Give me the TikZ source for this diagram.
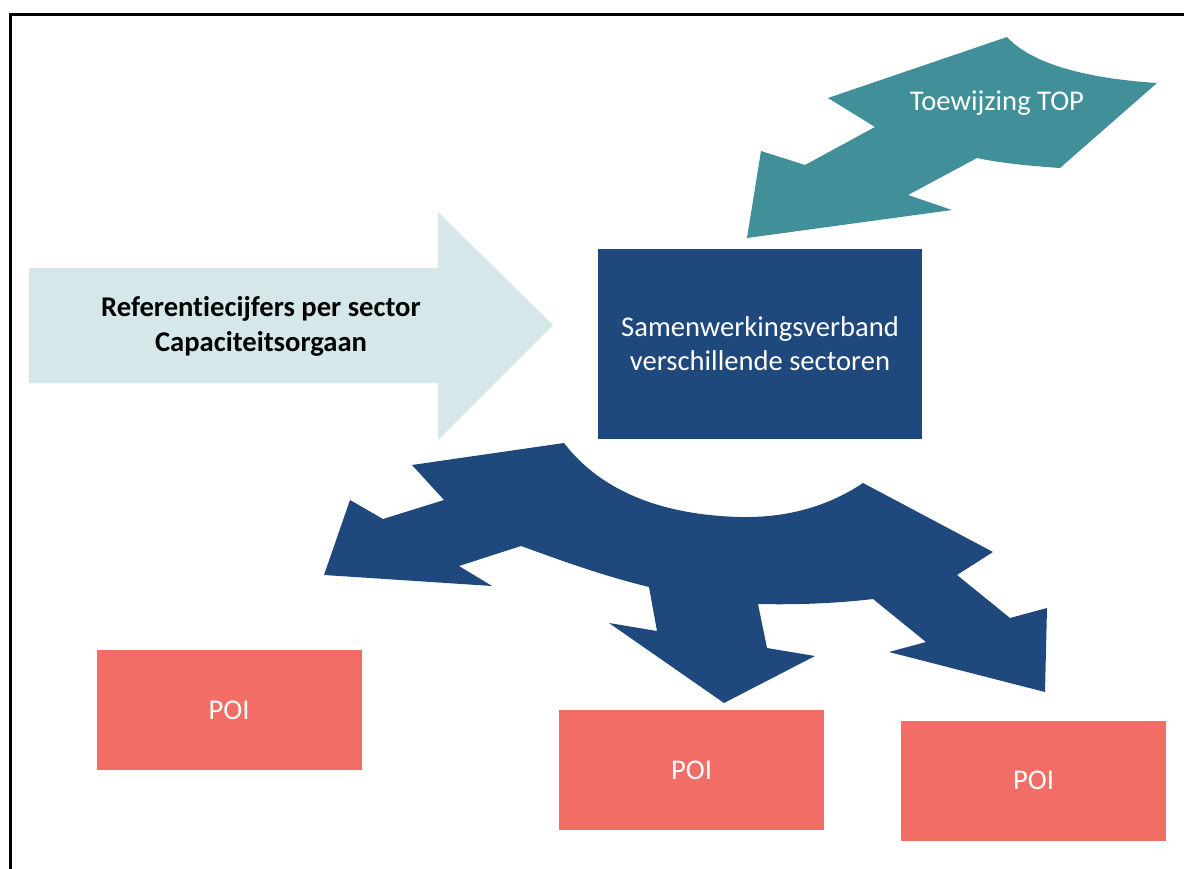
\documentclass[tikz,border=0pt]{standalone}
\usepackage{fontspec}
\setmainfont{Carlito}[Ligatures=NoCommon]
\definecolor{darkblue}{HTML}{1F497D}
\definecolor{tealc}{HTML}{418F98}
\definecolor{lightc}{HTML}{D5E7E8}
\definecolor{salmon}{HTML}{F26D65}
\begin{document}
\begin{tikzpicture}[x=1pt,y=-1pt,
  lbl/.style={font=\fontsize{28.6}{34}\selectfont, align=center, inner sep=0pt},
  poibox/.style={fill=salmon, minimum width=265pt, minimum height=120pt, inner sep=0pt, text=white, font=\fontsize{28.6}{34}\selectfont}]
\useasboundingbox (0,0) rectangle (1184,869);
\fill[white] (0,0) rectangle (1184,869);
% frame
\draw[line width=3pt] (10,880) -- (10,15) -- (1195,15);

% light arrow
\fill[lightc] (29,268) -- (438,268) -- (438,212) -- (553,325) -- (438,440) -- (438,383) -- (29,383) -- cycle;
\node[lbl, font=\fontsize{28.6}{35}\selectfont\bfseries] (ref) at (261,326) {Referentiecijfers per sector\\Capaciteitsorgaan};

% teal arrow
\fill[tealc] (1007,37) .. controls (1030,62) and (1080,78) .. (1157,83)
  -- (1060,168) .. controls (1030,166) and (1000,163) .. (977,158)
  -- (908,195) -- (952,210) -- (747,238) -- (761,151) -- (805,165)
  -- (875,127) -- (828,98) -- cycle;
\node[lbl, text=white] (top) at (997,103) {Toewijzing TOP};

% samenwerkingsverband box
\node[fill=darkblue, minimum width=324pt, minimum height=190pt, inner sep=0pt] (box) at (760,344) {};
\node[lbl, text=white] (boxt) at (box.center) {Samenwerkingsverband\\verschillende sectoren};

% dark blue three-way arrow
\fill[darkblue] (564,443) .. controls (600,490) and (660,515) .. (740,517)
  .. controls (790,518) and (830,505) .. (863,483)
  -- (993,552) -- (957,575) -- (1010,618) -- (1047,608) -- (1045,692)
  -- (889,652) -- (926,642) -- (873,599)
  .. controls (840,603) and (800,605) .. (758,604)
  -- (767,648) -- (815,656) -- (724,703) -- (609,623) -- (657,631) -- (649,587)
  .. controls (600,575) and (560,560) .. (521,546)
  -- (459,566) -- (492,586) -- (324,575) -- (350,500) -- (383,519)
  -- (444,500) -- (412,465) -- cycle;

% POI boxes
\node[poibox] (poi1) at (229,710) {POI};
\node[poibox] (poi2) at (691.5,770) {POI};
\node[poibox] (poi3) at (1033.5,780.5) {POI};
\end{tikzpicture}
\end{document}
